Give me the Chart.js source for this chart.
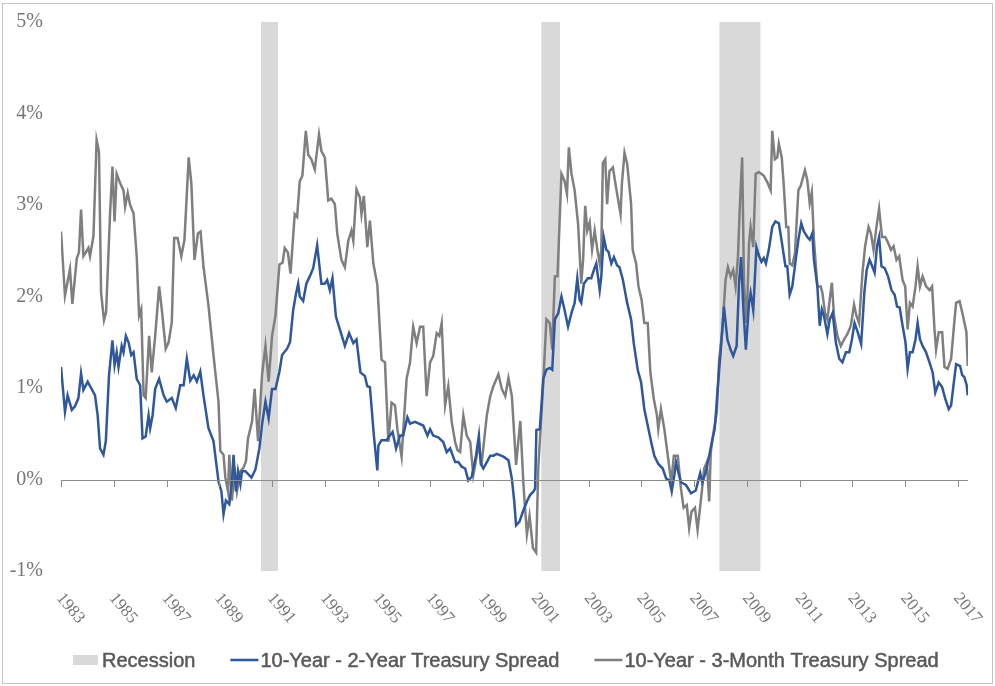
<!DOCTYPE html>
<html lang="en">
<head>
  <meta charset="UTF-8">
  <meta name="viewport" content="width=device-width, initial-scale=1.0">
  <title>Treasury Yield Spreads and Recessions</title>
  <style>
    html, body {
      margin: 0;
      padding: 0;
      background: #fff;
    }

    .frame {
      position: absolute;
      left: 2px;
      top: 3px;
      width: 991px;
      height: 681px;
      border: 1px solid #c4c4c4;
      box-sizing: border-box;
    }

    .chart-box {
      position: absolute;
      left: 0;
      top: 0;
      width: 995px;
      height: 686px;
    }
  </style>
  <script src="https://cdn.jsdelivr.net/npm/chart.js"></script>
</head>
<body>
  <div class="frame"></div>
  <div class="chart-box">
    <canvas id="spreadChart"></canvas>
  </div>

  <script>
    // x axis ticks (every two years)
    const tickYears = [1983, 1985, 1987, 1989, 1991, 1993, 1995, 1997, 1999,
      2001, 2003, 2005, 2007, 2009, 2011, 2013, 2015, 2017];

    // recessions (decimal years)
    const recessionStart = [1990.58, 2001.2, 2007.95];
    const recessionEnd = [1991.23, 2001.92, 2009.52];

    // 10-Year minus 2-Year spread (%)
    const spread2yDates = [
      1983.0, 1983.15, 1983.25, 1983.41, 1983.53, 1983.66, 1983.76, 1983.85, 1984.01, 1984.16,
      1984.29, 1984.39, 1984.48, 1984.61, 1984.7, 1984.82, 1984.95, 1985.03, 1985.11, 1985.18,
      1985.3, 1985.37, 1985.46, 1985.56, 1985.66, 1985.75, 1985.87, 1986.0, 1986.09, 1986.21,
      1986.32, 1986.38, 1986.47, 1986.57, 1986.72, 1986.89, 1987.01, 1987.2, 1987.35, 1987.52,
      1987.65, 1987.77, 1987.9, 1988.03, 1988.15, 1988.28, 1988.4, 1988.59, 1988.78, 1988.97,
      1989.08, 1989.16, 1989.25, 1989.38, 1989.48, 1989.54, 1989.63, 1989.71, 1989.8, 1989.86,
      1989.99, 1990.22, 1990.37, 1990.52, 1990.62, 1990.75, 1990.87, 1991.0, 1991.13, 1991.28,
      1991.38, 1991.57, 1991.68, 1991.8, 1991.9, 1991.99, 1992.05, 1992.18, 1992.3, 1992.43,
      1992.56, 1992.71, 1992.87, 1993.0, 1993.09, 1993.19, 1993.29, 1993.42, 1993.57, 1993.76,
      1993.92, 1994.08, 1994.2, 1994.35, 1994.52, 1994.61, 1994.71, 1994.86, 1994.99, 1995.03,
      1995.15, 1995.34, 1995.47, 1995.57, 1995.7, 1995.85, 1995.97, 1996.13, 1996.23, 1996.42,
      1996.73, 1996.89, 1996.99, 1997.11, 1997.3, 1997.49, 1997.62, 1997.75, 1997.94, 1998.06,
      1998.19, 1998.32, 1998.44, 1998.57, 1998.73, 1998.84, 1998.91, 1999.01, 1999.14, 1999.27,
      1999.39, 1999.52, 1999.77, 1999.96, 2000.09, 2000.18, 2000.25, 2000.38, 2000.51, 2000.66,
      2000.78, 2000.91, 2000.97, 2001.02, 2001.15, 2001.28, 2001.4, 2001.53, 2001.62, 2001.72,
      2001.85, 2001.97, 2002.09, 2002.22, 2002.35, 2002.47, 2002.57, 2002.66, 2002.72, 2002.82,
      2002.97, 2003.1, 2003.2, 2003.29, 2003.42, 2003.48, 2003.57, 2003.67, 2003.75, 2003.86,
      2003.96, 2004.08, 2004.17, 2004.3, 2004.46, 2004.61, 2004.71, 2004.86, 2004.99, 2005.11,
      2005.24, 2005.37, 2005.49, 2005.64, 2005.81, 2005.94, 2006.06, 2006.15, 2006.25, 2006.31,
      2006.4, 2006.5, 2006.69, 2006.88, 2007.06, 2007.23, 2007.31, 2007.44, 2007.57, 2007.69,
      2007.78, 2007.88, 2008.01, 2008.13, 2008.26, 2008.38, 2008.48, 2008.61, 2008.7, 2008.78,
      2008.86, 2008.96, 2009.08, 2009.14, 2009.24, 2009.36, 2009.45, 2009.55, 2009.64, 2009.72,
      2009.83, 2009.96, 2010.08, 2010.21, 2010.33, 2010.46, 2010.53, 2010.62, 2010.72, 2010.85,
      2010.95, 2011.06, 2011.16, 2011.29, 2011.38, 2011.48, 2011.54, 2011.67, 2011.76, 2011.84,
      2011.92, 2012.05, 2012.14, 2012.25, 2012.37, 2012.5, 2012.62, 2012.75, 2012.88, 2012.98,
      2013.08, 2013.2, 2013.33, 2013.45, 2013.54, 2013.65, 2013.75, 2013.84, 2013.93, 2014.01,
      2014.1, 2014.22, 2014.35, 2014.48, 2014.6, 2014.69, 2014.79, 2014.9, 2015.01, 2015.09,
      2015.18, 2015.28, 2015.39, 2015.47, 2015.56, 2015.66, 2015.79, 2015.92, 2016.04, 2016.14,
      2016.27, 2016.4, 2016.52, 2016.65, 2016.74, 2016.83, 2016.93, 2017.08, 2017.16, 2017.24,
      2017.33, 2017.37
    ];
    const spread2yValues = [
      1.23, 0.74, 0.92, 0.76, 0.80, 0.89, 1.16, 0.98, 1.07, 0.99,
      0.92, 0.70, 0.34, 0.27, 0.42, 1.14, 1.52, 1.25, 1.39, 1.23,
      1.46, 1.39, 1.57, 1.50, 1.36, 1.39, 1.10, 1.03, 0.45, 0.47,
      0.70, 0.56, 0.70, 0.99, 1.10, 0.92, 0.85, 0.89, 0.78, 1.03,
      1.03, 1.32, 1.08, 1.14, 1.07, 1.18, 0.92, 0.56, 0.42, -0.02,
      -0.13, -0.38, -0.23, -0.27, -0.02, 0.27, -0.13, 0.09, -0.05, 0.09,
      0.09, 0.02, 0.11, 0.34, 0.60, 0.85, 0.67, 0.99, 0.99, 1.18,
      1.36, 1.43, 1.50, 1.85, 2.02, 2.14, 2.00, 1.95, 2.14, 2.22,
      2.31, 2.56, 2.14, 2.14, 2.18, 2.07, 2.20, 1.78, 1.64, 1.46,
      1.60, 1.49, 1.53, 1.17, 1.13, 1.02, 1.01, 0.48, 0.10, 0.37,
      0.43, 0.43, 0.48, 0.52, 0.34, 0.48, 0.48, 0.68, 0.61, 0.63,
      0.59, 0.48, 0.55, 0.48, 0.46, 0.41, 0.30, 0.34, 0.19, 0.19,
      0.14, 0.12, -0.01, 0.03, 0.26, 0.48, 0.17, 0.12, 0.19, 0.26,
      0.26, 0.28, 0.25, 0.21, 0.01, -0.24, -0.50, -0.46, -0.35, -0.24,
      -0.17, -0.13, -0.10, 0.54, 0.55, 1.10, 1.20, 1.22, 1.20, 1.75,
      1.82, 2.00, 1.85, 1.67, 1.82, 1.93, 2.20, 1.96, 1.93, 2.14,
      2.20, 2.20, 2.29, 2.36, 2.07, 2.22, 2.65, 2.51, 2.49, 2.36,
      2.43, 2.34, 2.32, 2.18, 1.93, 1.75, 1.49, 1.20, 1.06, 0.77,
      0.59, 0.41, 0.26, 0.17, 0.12, 0.01, -0.01, -0.13, 0.05, 0.19,
      0.08, -0.03, -0.06, -0.15, -0.12, 0.07, -0.03, 0.08, 0.26, 0.44,
      0.55, 0.95, 1.42, 1.89, 1.53, 1.42, 1.35, 1.46, 2.14, 2.43,
      1.89, 1.42, 1.93, 2.04, 1.85, 2.54, 2.45, 2.38, 2.42, 2.36,
      2.51, 2.76, 2.82, 2.80, 2.58, 2.33, 2.33, 2.02, 2.11, 2.40,
      2.62, 2.80, 2.71, 2.65, 2.62, 2.69, 2.40, 2.11, 1.68, 1.86,
      1.79, 1.59, 1.75, 1.82, 1.50, 1.32, 1.28, 1.39, 1.39, 1.53,
      1.71, 1.61, 1.48, 2.04, 2.29, 2.40, 2.33, 2.26, 2.55, 2.65,
      2.33, 2.31, 2.22, 2.07, 2.02, 1.89, 1.88, 1.68, 1.50, 1.21,
      1.39, 1.39, 1.53, 1.71, 1.53, 1.46, 1.39, 1.28, 1.17, 0.95,
      1.06, 1.01, 0.88, 0.77, 0.81, 1.03, 1.26, 1.24, 1.14, 1.12,
      1.03, 0.92
    ];

    // 10-Year minus 3-Month spread (%)
    const spread3mDates = [
      1983.0, 1983.15, 1983.34, 1983.43, 1983.6, 1983.68, 1983.76, 1983.85, 1984.04, 1984.1,
      1984.23, 1984.35, 1984.44, 1984.52, 1984.63, 1984.71, 1984.86, 1984.95, 1985.03, 1985.11,
      1985.24, 1985.37, 1985.43, 1985.53, 1985.62, 1985.75, 1985.87, 1985.96, 1986.04, 1986.13,
      1986.21, 1986.34, 1986.44, 1986.57, 1986.72, 1986.82, 1986.97, 1987.08, 1987.2, 1987.29,
      1987.42, 1987.56, 1987.68, 1987.84, 1987.94, 1988.06, 1988.19, 1988.29, 1988.4, 1988.59,
      1988.78, 1988.97, 1989.04, 1989.16, 1989.23, 1989.33, 1989.38, 1989.48, 1989.58, 1989.67,
      1989.8, 1989.92, 1990.01, 1990.09, 1990.24, 1990.34, 1990.47, 1990.62, 1990.75, 1990.87,
      1991.0, 1991.13, 1991.28, 1991.4, 1991.48, 1991.6, 1991.7, 1991.86, 1991.95, 1992.05,
      1992.15, 1992.28, 1992.37, 1992.49, 1992.62, 1992.78, 1992.87, 1993.0, 1993.13, 1993.25,
      1993.38, 1993.47, 1993.63, 1993.76, 1993.89, 1994.01, 1994.08, 1994.2, 1994.33, 1994.39,
      1994.48, 1994.61, 1994.71, 1994.84, 1994.99, 1995.15, 1995.28, 1995.41, 1995.53, 1995.66,
      1995.75, 1995.91, 1996.1, 1996.23, 1996.35, 1996.48, 1996.61, 1996.73, 1996.86, 1996.99,
      1997.11, 1997.24, 1997.34, 1997.43, 1997.56, 1997.68, 1997.81, 1997.94, 1998.03, 1998.13,
      1998.25, 1998.38, 1998.51, 1998.63, 1998.7, 1998.82, 1998.95, 1999.14, 1999.27, 1999.39,
      1999.58, 1999.71, 1999.84, 1999.96, 2000.09, 2000.25, 2000.41, 2000.53, 2000.66, 2000.76,
      2000.89, 2001.01, 2001.09, 2001.28, 2001.4, 2001.53, 2001.62, 2001.72, 2001.82, 2001.97,
      2002.09, 2002.18, 2002.25, 2002.35, 2002.47, 2002.6, 2002.72, 2002.79, 2002.87, 2002.95,
      2003.04, 2003.13, 2003.23, 2003.33, 2003.42, 2003.48, 2003.54, 2003.63, 2003.7, 2003.79,
      2003.92, 2004.04, 2004.21, 2004.26, 2004.36, 2004.46, 2004.61, 2004.67, 2004.8, 2004.89,
      2005.01, 2005.11, 2005.24, 2005.34, 2005.47, 2005.59, 2005.64, 2005.74, 2005.87, 2006.0,
      2006.13, 2006.23, 2006.38, 2006.5, 2006.6, 2006.72, 2006.81, 2006.9, 2007.03, 2007.13,
      2007.25, 2007.38, 2007.48, 2007.57, 2007.63, 2007.75, 2007.86, 2007.94, 2008.07, 2008.19,
      2008.28, 2008.38, 2008.48, 2008.57, 2008.66, 2008.73, 2008.82, 2008.89, 2008.99, 2009.08,
      2009.14, 2009.24, 2009.33, 2009.45, 2009.64, 2009.77, 2009.9, 2009.96, 2010.06, 2010.15,
      2010.21, 2010.32, 2010.4, 2010.49, 2010.57, 2010.62, 2010.72, 2010.82, 2010.95, 2011.04,
      2011.2, 2011.29, 2011.38, 2011.46, 2011.54, 2011.67, 2011.8, 2011.86, 2011.96, 2012.05,
      2012.14, 2012.22, 2012.3, 2012.43, 2012.56, 2012.68, 2012.81, 2012.94, 2013.06, 2013.15,
      2013.25, 2013.38, 2013.48, 2013.61, 2013.7, 2013.8, 2013.91, 2014.01, 2014.12, 2014.24,
      2014.33, 2014.46, 2014.56, 2014.67, 2014.77, 2014.9, 2015.0, 2015.09, 2015.18, 2015.28,
      2015.39, 2015.47, 2015.56, 2015.66, 2015.79, 2015.92, 2016.02, 2016.11, 2016.17, 2016.27,
      2016.4, 2016.49, 2016.61, 2016.74, 2016.87, 2016.93, 2017.06, 2017.19, 2017.32, 2017.37
    ];
    const spread3mValues = [
      2.71, 2.01, 2.30, 1.92, 2.42, 2.48, 2.95, 2.44, 2.53, 2.44,
      2.66, 3.71, 3.58, 2.04, 1.74, 1.83, 2.91, 3.42, 2.82, 3.34,
      3.24, 3.16, 2.98, 3.13, 3.00, 2.91, 2.44, 1.79, 1.86, 0.92,
      0.89, 1.57, 1.17, 1.57, 2.11, 1.86, 1.43, 1.50, 1.72, 2.64,
      2.64, 2.44, 2.62, 3.52, 3.24, 2.40, 2.69, 2.71, 2.33, 1.90,
      1.36, 0.85, 0.31, 0.27, 0.02, -0.13, 0.27, -0.23, 0.13, -0.13,
      0.09, 0.13, 0.20, 0.45, 0.63, 0.99, 0.42, 1.14, 1.46, 1.07,
      1.57, 1.79, 2.35, 2.37, 2.53, 2.48, 2.25, 2.90, 2.87, 3.26,
      3.32, 3.81, 3.55, 3.50, 3.39, 3.77, 3.59, 3.52, 3.05, 3.07,
      3.01, 2.69, 2.40, 2.32, 2.61, 2.72, 2.61, 3.17, 3.08, 2.90,
      3.10, 2.54, 2.83, 2.36, 2.13, 1.31, 1.28, 0.41, 0.84, 0.81,
      0.55, 0.25, 1.10, 1.28, 1.67, 1.49, 1.67, 1.67, 0.91, 1.28,
      1.35, 1.60, 1.57, 1.71, 0.81, 1.02, 0.63, 0.41, 0.32, 0.30,
      0.70, 0.48, 0.41, 0.05, 0.16, 0.37, 0.19, 0.70, 0.91, 1.02,
      1.15, 0.99, 0.91, 1.11, 0.91, 0.16, 0.64, -0.06, -0.60, -0.40,
      -0.75, -0.80, 0.12, 1.06, 1.75, 1.71, 1.42, 2.22, 2.22, 3.34,
      3.26, 3.12, 3.63, 3.34, 3.16, 2.79, 2.14, 2.40, 2.99, 2.72,
      2.81, 2.51, 2.72, 2.51, 2.36, 2.51, 3.46, 3.50, 3.01, 3.37,
      3.41, 3.19, 2.90, 3.23, 3.57, 3.45, 3.01, 2.51, 2.36, 2.11,
      1.96, 1.71, 1.71, 1.17, 0.88, 0.70, 0.55, 0.77, 0.55, 0.26,
      -0.03, 0.26, 0.26, -0.10, -0.31, -0.28, -0.53, -0.35, -0.31, -0.55,
      -0.24, 0.12, 0.19, -0.24, 0.30, 0.55, 0.73, 1.28, 1.64, 2.18,
      2.32, 2.22, 2.29, 2.11, 2.43, 2.98, 3.52, 2.14, 1.71, 2.58,
      2.76, 2.54, 3.34, 3.36, 3.32, 3.25, 3.16, 3.81, 3.50, 3.52,
      3.67, 3.52, 3.20, 2.76, 2.76, 2.36, 2.34, 2.47, 3.16, 3.21,
      3.38, 3.27, 3.02, 3.14, 2.62, 2.11, 2.11, 2.04, 1.82, 1.75,
      1.97, 2.15, 1.79, 1.57, 1.46, 1.53, 1.59, 1.68, 1.91, 1.79,
      1.71, 2.26, 2.55, 2.76, 2.69, 2.51, 2.76, 2.96, 2.65, 2.65,
      2.60, 2.51, 2.55, 2.40, 2.44, 2.18, 2.11, 1.64, 1.93, 1.89,
      2.11, 2.33, 2.11, 2.22, 2.11, 2.07, 2.11, 1.64, 1.42, 1.61,
      1.61, 1.23, 1.21, 1.32, 1.75, 1.93, 1.95, 1.79, 1.61, 1.24
    ];

    const toPoints = (dates, values) => dates.map((d, i) => ({ x: d, y: values[i] }));

    // each recession: flat top at 5%, broken by a null so the fill stays separate
    const recessionPoints = [];
    recessionStart.forEach((s, i) => {
      recessionPoints.push({ x: s, y: 5 }, { x: recessionEnd[i], y: 5 }, { x: recessionEnd[i], y: null });
    });

    const axisGrey = "#767676";

    // zero line, tick marks, slanted year labels and the legend
    const decorPlugin = {
      id: "decor",
      afterDatasetsDraw(chart) {
        const ctx = chart.ctx;
        const xs = chart.scales.x;
        const ys = chart.scales.y;
        const area = chart.chartArea;
        const y0 = Math.round(ys.getPixelForValue(0));

        ctx.save();
        ctx.strokeStyle = "#8c8c8c";
        ctx.lineWidth = 1;
        ctx.beginPath();
        ctx.moveTo(area.left, y0 + 0.5);
        ctx.lineTo(area.right, y0 + 0.5);
        tickYears.forEach(yr => {
          const x = Math.round(xs.getPixelForValue(yr)) + 0.5;
          ctx.moveTo(x, y0);
          ctx.lineTo(x, y0 + 7);
        });
        ctx.stroke();

        ctx.fillStyle = axisGrey;
        ctx.font = '17px "Liberation Serif", "Times New Roman", serif';
        ctx.textAlign = "left";
        ctx.textBaseline = "top";
        tickYears.forEach(yr => {
          const x = xs.getPixelForValue(yr);
          ctx.save();
          ctx.translate(x + 5, area.bottom + 19);
          ctx.rotate(50 * Math.PI / 180);
          ctx.fillText(String(yr), 0, 0);
          ctx.restore();
        });

        // legend
        ctx.font = '20px "Liberation Sans", Arial, sans-serif';
        ctx.textBaseline = "middle";
        const ly = 660;
        let lx = 73;
        chart.data.datasets.slice().reverse().forEach(ds => {
          if (ds.label === "Recession") {
            ctx.fillStyle = ds.backgroundColor;
            ctx.fillRect(lx, ly - 5, 25, 10);
            lx += 29;
          } else {
            ctx.strokeStyle = ds.borderColor;
            ctx.lineWidth = 2.5;
            ctx.beginPath();
            ctx.moveTo(lx, ly);
            ctx.lineTo(lx + 28, ly);
            ctx.stroke();
            lx += 30;
          }
          ctx.fillStyle = "#595959";
          ctx.strokeStyle = "#595959";
          ctx.lineWidth = 0.5;
          ctx.fillText(ds.label, lx, ly + 1);
          ctx.strokeText(ds.label, lx, ly + 1);
          lx += ctx.measureText(ds.label).width + 35;
        });
        ctx.restore();
      }
    };

    const ctx = document.getElementById("spreadChart").getContext("2d");
    new Chart(ctx, {
      type: "line",
      data: {
        datasets: [
          {
            label: "10-Year - 3-Month Treasury Spread",
            data: toPoints(spread3mDates, spread3mValues),
            borderColor: "#7f7f7f",
            borderWidth: 2.5,
            pointRadius: 0,
            tension: 0,
            fill: false,
            order: 2
          },
          {
            label: "10-Year - 2-Year Treasury Spread",
            data: toPoints(spread2yDates, spread2yValues),
            borderColor: "#2f579c",
            borderWidth: 2.5,
            pointRadius: 0,
            tension: 0,
            fill: false,
            order: 1
          },
          {
            label: "Recession",
            data: recessionPoints,
            borderColor: "rgba(0,0,0,0)",
            borderWidth: 0,
            backgroundColor: "#d9d9d9",
            pointRadius: 0,
            spanGaps: false,
            fill: { value: -1 },
            order: 3
          }
        ]
      },
      options: {
        responsive: true,
        maintainAspectRatio: false,
        animation: false,
        devicePixelRatio: 1,
        layout: {
          padding: { top: 7, right: 27, bottom: 115, left: 0 }
        },
        plugins: {
          legend: { display: false },
          tooltip: { enabled: false }
        },
        scales: {
          x: {
            type: "linear",
            display: false,
            min: 1983,
            max: 2017.38
          },
          y: {
            min: -1,
            max: 5,
            grid: { display: false },
            border: { display: false },
            ticks: {
              stepSize: 1,
              padding: 10,
              color: axisGrey,
              font: { family: '"Liberation Serif", "Times New Roman", serif', size: 20 },
              callback: v => v + "%"
            },
            afterFit: scale => { scale.width = 61; }
          }
        }
      },
      plugins: [decorPlugin]
    });
  </script>
</body>
</html>
